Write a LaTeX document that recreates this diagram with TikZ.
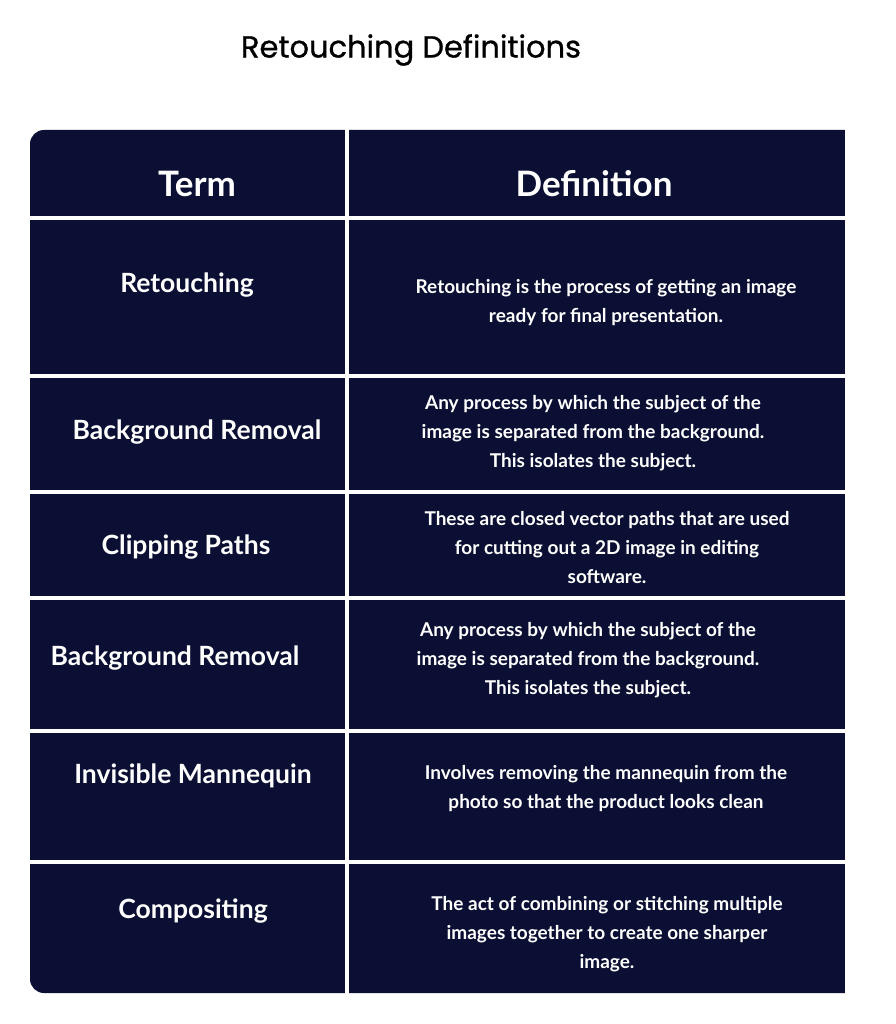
\documentclass[tikz,border=0pt]{standalone}
\usepackage{fontspec}
\setmainfont{Lato}
\newfontfamily\titlefont[AutoFakeBold=0.8]{Poppins}
\definecolor{navy}{HTML}{0A0F33}
\begin{document}
\begin{tikzpicture}[x=1pt,y=-1pt,
  term/.style={text=white,font=\bfseries\fontsize{26.5}{30}\selectfont,anchor=center},
  defn/.style={text=white,font=\bfseries\fontsize{19}{29}\selectfont,align=center,anchor=center},
  head/.style={text=white,font=\bfseries\fontsize{35}{40}\selectfont,anchor=center},
  sep/.style={white,line width=4pt}]
\useasboundingbox (0,0) rectangle (895,1024);
\fill[white] (0,0) rectangle (895,1024);
\node[font=\titlefont\bfseries\fontsize{30.5}{34}\selectfont,anchor=center] (title) at (411,50) {Retouching Definitions};
\fill[navy,rounded corners=14pt] (30,130) rectangle (870,993);
\fill[navy] (500,130) rectangle (845,993);
\fill[white] (845,125) rectangle (880,1000);
\draw[sep] (347,128) -- (347,995);
\foreach \y in {218,376,492,598,731,862} \draw[sep] (28,\y) -- (847,\y);
\node[head] (h1) at (197,184) {Term};
\node[head] (h2) at (594,184) {Definition};
\node[term] (t1) at (187,285) {Retouching};
\node[term] (t2) at (197,432) {Background Removal};
\node[term] (t3) at (186,547) {Clipping Paths};
\node[term] (t4) at (175,658) {Background Removal};
\node[term] (t5) at (193,776) {Invisible Mannequin};
\node[term] (t6) at (193,911) {Compositing};
\node[defn] (d1) at (606,303) {Retouching is the process of getting an image\\ready for final presentation.};
\node[defn] (d2) at (593,433) {Any process by which the subject of the\\image is separated from the background.\\This isolates the subject.};
\node[defn] (d3) at (607,548) {These are closed vector paths that are used\\for cutting out a 2D image in editing\\software.};
\node[defn] (d4) at (588,660) {Any process by which the subject of the\\image is separated from the background.\\This isolates the subject.};
\node[defn] (d5) at (606,789) {Involves removing the mannequin from the\\photo so that the product looks clean};
\node[defn] (d6) at (607,934) {The act of combining or stitching multiple\\images together to create one sharper\\image.};
\end{tikzpicture}
\end{document}
